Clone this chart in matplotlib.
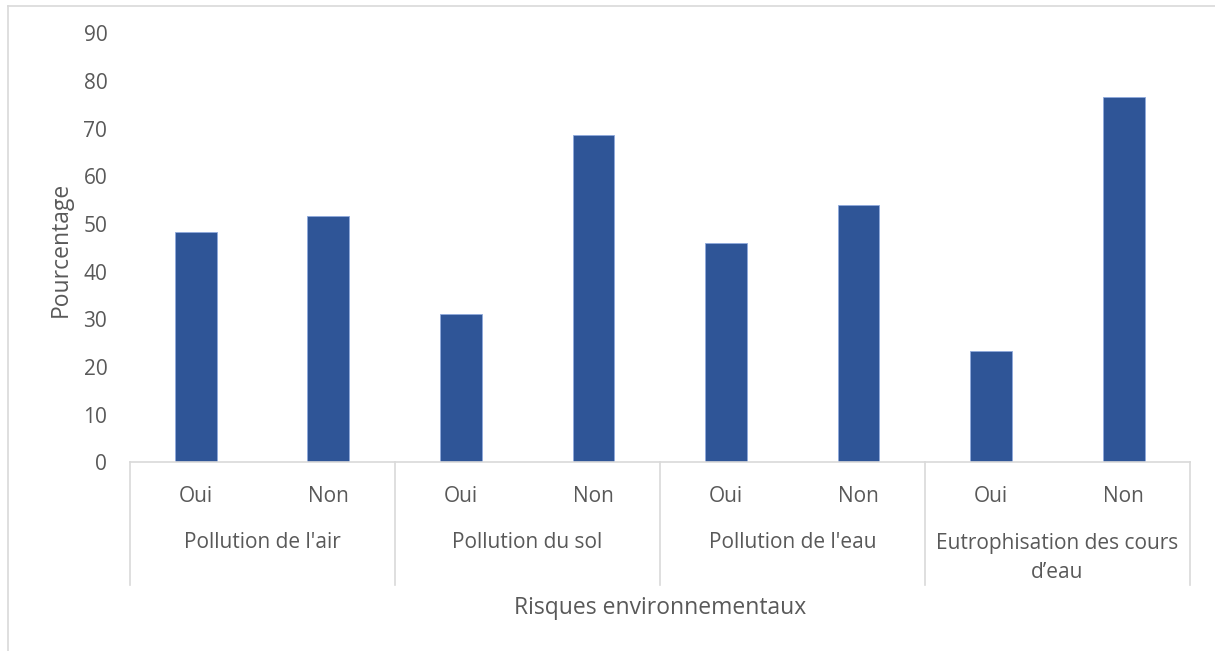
import matplotlib.pyplot as plt
from matplotlib.lines import Line2D
import matplotlib.transforms as mtransforms

plt.rcParams['font.family'] = ['Open Sans', 'DejaVu Sans']

groups = ["Pollution de l'air", "Pollution du sol", "Pollution de l'eau",
          "Eutrophisation des cours\nd\u2019eau"]
answers = ["Oui", "Non"]
values = [48.4, 51.6, 31.2, 68.8, 46.1, 53.9, 23.4, 76.6]

text_color = "#595959"
line_color = "#D9D9D9"
bar_color = "#2F5597"

W, H = 1215, 651
fig = plt.figure(figsize=(W / 100, H / 100), dpi=100)

# outer chart border (top and left visible)
fig.add_artist(Line2D([8 / W, 8 / W], [0, 1 - 6 / H], color=line_color, lw=1.2))
fig.add_artist(Line2D([8 / W, 1], [1 - 6 / H, 1 - 6 / H], color=line_color, lw=1.2))

left, right = 129.5 / W, 1190 / W
bottom, top = 1 - 462.3 / H, 1 - 33.5 / H
ax = fig.add_axes([left, bottom, right - left, top - bottom])

x = list(range(len(values)))
ax.bar(x, values, width=0.315, color=bar_color, edgecolor="#8FAADC", linewidth=0.6)

ax.set_xlim(-0.5, len(values) - 0.5)
ax.set_ylim(0, 90)
ax.set_yticks(range(0, 91, 10))
ax.tick_params(axis="y", length=0, pad=16, labelsize=15, labelcolor=text_color)
ax.set_xticks([])
for s in ["top", "right", "left"]:
    ax.spines[s].set_visible(False)
ax.spines["bottom"].set_color(line_color)
ax.spines["bottom"].set_linewidth(1.2)

axh = 462.3 - 33.5
def ay(py):
    return (462.3 - py) / axh

trans = mtransforms.blended_transform_factory(ax.transData, ax.transAxes)

# separators of the two-level category axis
for i in range(len(groups) + 1):
    xs = 2 * i - 0.5
    ax.plot([xs, xs], [0, ay(585)], transform=trans, color=line_color,
            lw=1.2, clip_on=False)

# inner labels
for i in x:
    ax.text(i, ay(496), answers[i % 2], transform=trans, ha="center",
            va="center", fontsize=15, color=text_color)

# group labels
for g, name in enumerate(groups):
    if "\n" in name:
        ax.text(2 * g + 0.5, ay(558), name, transform=trans, ha="center",
                va="center", fontsize=15, color=text_color, linespacing=1.45)
    else:
        ax.text(2 * g + 0.5, ay(542), name, transform=trans, ha="center",
                va="center", fontsize=15, color=text_color)

fig.text(660 / W, 1 - 608 / H, "Risques environnementaux", ha="center",
         va="center", fontsize=16.5, color=text_color)
fig.text(61 / W, 1 - 249 / H, "Pourcentage", ha="center", va="center",
         rotation=90, fontsize=16.5, color=text_color)

fig.savefig("out.png", dpi=100)
